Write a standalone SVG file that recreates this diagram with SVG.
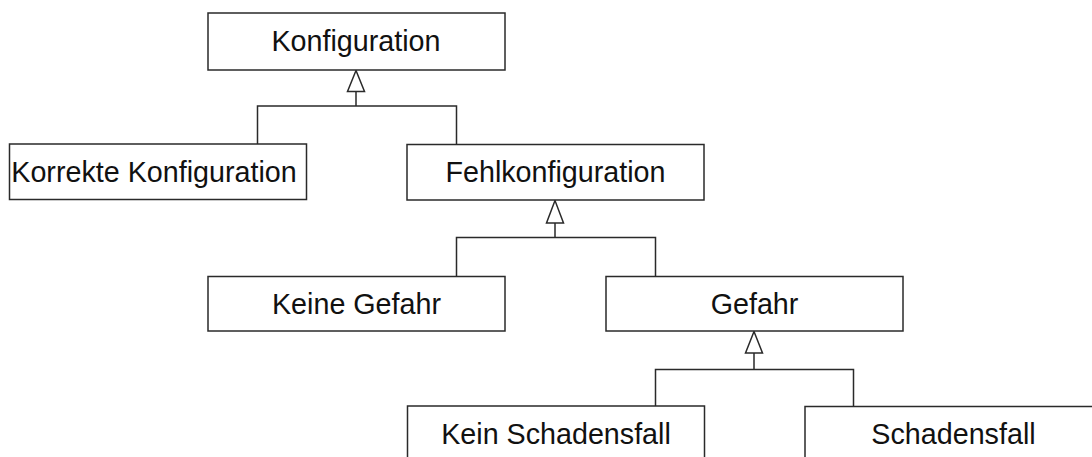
<svg xmlns="http://www.w3.org/2000/svg" width="1092" height="457" viewBox="0 0 1092 457">
  <style>
    .box { fill: #ffffff; stroke: #2a2a2a; stroke-width: 1.5; }
    .label { font-family: "Liberation Sans", Arial, Helvetica, sans-serif; font-size: 28.7px; fill: #111111; text-anchor: middle; }
    .link { fill: none; stroke: #2a2a2a; stroke-width: 1.5; }
    .head { fill: #ffffff; stroke: #2a2a2a; stroke-width: 1.5; stroke-linejoin: miter; }
  </style>
  <rect width="1092" height="457" fill="#ffffff"/>

  <!-- generalisation connectors: child branches join a stem ending in a hollow triangle -->
  <g id="connectors">
    <path class="link" d="M257.5,144 V106 H456.5 V144 M356,106 V91.5"/>
    <polygon class="head" points="356,70.5 347.5,91.5 364.5,91.5"/>

    <path class="link" d="M456.5,276.5 V237.5 H655.5 V276.5 M555,237.5 V223"/>
    <polygon class="head" points="555,200.5 546.5,223 563.5,223"/>

    <path class="link" d="M655.5,406 V369.5 H853.5 V406 M754,369.5 V353"/>
    <polygon class="head" points="754,331.5 745.5,353 762.5,353"/>
  </g>

  <g id="konfiguration">
    <rect class="box" x="208" y="13" width="297" height="57"/>
    <text class="label" x="356" y="51">Konfiguration</text>
  </g>

  <g id="korrekte-konfiguration">
    <rect class="box" x="9.5" y="144" width="297" height="55.5"/>
    <text class="label" x="154" y="181.5">Korrekte Konfiguration</text>
  </g>

  <g id="fehlkonfiguration">
    <rect class="box" x="407" y="144.5" width="297" height="55.5"/>
    <text class="label" x="555.5" y="182">Fehlkonfiguration</text>
  </g>

  <g id="keine-gefahr">
    <rect class="box" x="208" y="276.5" width="297" height="54.5"/>
    <text class="label" x="356.5" y="313.5">Keine Gefahr</text>
  </g>

  <g id="gefahr">
    <rect class="box" x="606" y="276.5" width="297" height="54.5"/>
    <text class="label" x="754.5" y="313.5">Gefahr</text>
  </g>

  <g id="kein-schadensfall">
    <rect class="box" x="407.5" y="406" width="297" height="56"/>
    <text class="label" x="556" y="444">Kein Schadensfall</text>
  </g>

  <g id="schadensfall">
    <rect class="box" x="805" y="406.5" width="297" height="56"/>
    <text class="label" x="953.5" y="444">Schadensfall</text>
  </g>
</svg>
